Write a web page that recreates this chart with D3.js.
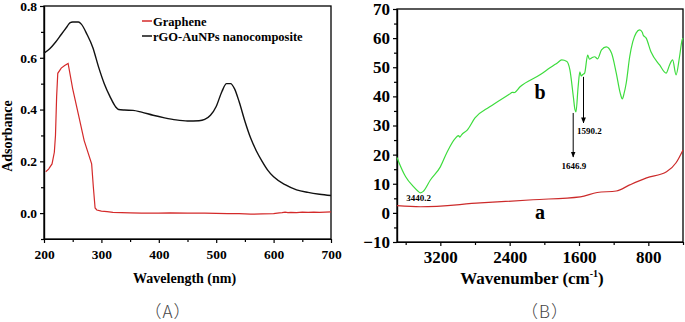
<!DOCTYPE html>
<html>
<head>
<meta charset="utf-8">
<script src="https://cdn.jsdelivr.net/npm/d3@7"></script>
<style>
  body { margin: 0; background: #fff; }
  svg { display: block; }
  .axis text { font-family: "Liberation Serif", "Times New Roman", serif; font-weight: bold; fill: #000; }
  .axis path, .axis line { stroke: #000; stroke-width: 1.2; }
  .lbl { font-family: "Liberation Serif", "Times New Roman", serif; font-weight: bold; fill: #000; }
  .panel { font-family: "Noto Sans CJK SC", sans-serif; font-weight: 300; font-size: 17px; fill: #444; letter-spacing: 1px; }
</style>
</head>
<body>
<div id="chart"></div>
<script>
// ---- panel A: UV-vis ----
let wavelengthTicks = [200, 300, 400, 500, 600, 700];
let absTicks = [0.0, 0.2, 0.4, 0.6, 0.8];

let rgoNm  = [200, 210, 220, 230, 240, 245, 250, 260, 265, 275, 285, 295, 305, 315, 325, 330, 340, 355, 370, 390, 410, 430, 450, 470, 480, 490, 500, 510, 518, 525, 532, 540, 550, 560, 570, 580, 590, 600, 620, 640, 660, 680, 700];
let rgoAbs = [0.618, 0.635, 0.66, 0.69, 0.72, 0.735, 0.738, 0.738, 0.73, 0.69, 0.64, 0.565, 0.50, 0.45, 0.41, 0.40, 0.398, 0.397, 0.39, 0.378, 0.368, 0.36, 0.356, 0.357, 0.362, 0.378, 0.412, 0.47, 0.50, 0.50, 0.48, 0.43, 0.355, 0.29, 0.24, 0.20, 0.165, 0.14, 0.11, 0.09, 0.08, 0.073, 0.068];

let grNm  = [203, 208, 214, 218, 220, 222, 224, 230, 236, 242, 250, 260, 270, 283, 286, 289, 292, 300, 310, 320, 335, 350, 370, 400, 420, 450, 480, 500, 520, 540, 560, 580, 600, 610, 615, 620, 625, 630, 640, 650, 660, 670, 680, 690, 700];
let grAbs = [0.16, 0.17, 0.19, 0.235, 0.30, 0.45, 0.54, 0.56, 0.57, 0.578, 0.48, 0.38, 0.28, 0.19, 0.10, 0.02, 0.012, 0.008, 0.006, 0.003, 0.002, 0.001, 0.0, 0.0, 0.001, 0.0, 0.0, -0.001, -0.002, -0.002, -0.004, -0.003, -0.002, 0.001, 0.002, 0.004, 0.002, 0.003, 0.002, 0.004, 0.003, 0.004, 0.003, 0.004, 0.005];

let legendA = ["Graphene", "rGO-AuNPs nanocomposite"];

// ---- panel B: FTIR ----
let waveTicks = [3200, 2400, 1600, 800];
let transTicks = [-10, 0, 10, 20, 30, 40, 50, 60, 70];

let bWn = [3700, 3680, 3600, 3510, 3460, 3430, 3400, 3315, 3200, 3120, 3030, 2990, 2975, 2955, 2890, 2800, 2630, 2400, 2370, 2350, 2280, 2050, 1935, 1850, 1800, 1740, 1705, 1665, 1647, 1635, 1610, 1590, 1575, 1560, 1535, 1500, 1480, 1455, 1420, 1385, 1340, 1285, 1225, 1170, 1125, 1100, 1080, 1055, 1015, 980, 940, 900, 870, 860, 825, 770, 670, 595, 555, 520, 480, 440, 410, 400];
let bT  = [19.0, 17.5, 12.4, 9.0, 7.5, 6.9, 7.3, 11.3, 15.8, 21.0, 25.5, 26.5, 26.0, 26.8, 28.4, 32.6, 36.4, 40.8, 41.4, 41.3, 43.3, 47.4, 49.8, 51.5, 52.5, 52.0, 49.1, 39.8, 35.5, 34.7, 43.3, 48.4, 47.0, 47.4, 48.0, 54.2, 52.8, 53.2, 53.6, 52.9, 56.0, 57.0, 54.9, 48.0, 41.2, 39.1, 41.0, 44.6, 53.6, 58.7, 61.8, 62.8, 62.0, 61.1, 60.0, 55.3, 50.8, 48.0, 50.8, 52.5, 47.4, 53.6, 59.4, 60.0];

let aWn = [3700, 3430, 2740, 2130, 1585, 1390, 1170, 1015, 820, 590, 480, 400];
let aT  = [2.5, 2.1, 3.4, 4.5, 5.5, 7.0, 7.5, 9.6, 12.0, 14.1, 17.2, 21.6];

// peak labels: [label, wavenumber, value at text baseline]
let peakLabels = [["3440.2", 3450, 4.0], ["1590.2", 1480, 27.0], ["1646.9", 1660, 15.0]];
// arrows: [wavenumber, from value, to value]
let peakArrows = [[1667, 34.3, 19.2], [1548, 46.7, 30.9]];
// curve letters: [label, wavenumber, value at baseline]
let curveLabels = [["b", 2050, 39], ["a", 2050, -2]];

let W = 685, H = 322;
let svg = d3.select("#chart").append("svg").attr("width", W).attr("height", H);

svg.append("defs").append("marker")
    .attr("id", "arr").attr("viewBox", "0 0 10 10").attr("refX", 9).attr("refY", 5)
    .attr("markerWidth", 6).attr("markerHeight", 6).attr("orient", "auto")
    .append("path").attr("d", "M0,1 L10,5 L0,9 Z").attr("fill", "#000");

function frame(g, x, y) {
    g.append("rect")
        .attr("x", x.range()[0]).attr("y", y.range()[1])
        .attr("width", x.range()[1] - x.range()[0])
        .attr("height", y.range()[0] - y.range()[1])
        .attr("fill", "none").attr("stroke", "#000").attr("stroke-width", 1.3);
}

// ===== panel A =====
let gA = svg.append("g");
let xA = d3.scaleLinear().domain([200, 700]).range([44, 331]);
let yA = d3.scaleLinear().domain([-0.1, 0.8]).range([239, 6]);

gA.append("g").attr("class", "axis").attr("transform", "translate(0,239)")
    .call(d3.axisBottom(xA).tickValues(d3.range(250, 700, 100)).tickFormat("").tickSize(3).tickSizeOuter(0));
gA.append("g").attr("class", "axis").attr("transform", "translate(0,239)")
    .call(d3.axisBottom(xA).tickValues(wavelengthTicks).tickFormat(d3.format("d")).tickSize(4).tickPadding(6).tickSizeOuter(0))
    .selectAll("text").style("font-size", "13.5px");
gA.append("g").attr("class", "axis").attr("transform", "translate(44,0)")
    .call(d3.axisLeft(yA).tickValues([-0.1, 0.1, 0.3, 0.5, 0.7]).tickFormat("").tickSize(3).tickSizeOuter(0));
gA.append("g").attr("class", "axis").attr("transform", "translate(44,0)")
    .call(d3.axisLeft(yA).tickValues(absTicks).tickFormat(d3.format(".1f")).tickSize(4).tickPadding(3).tickSizeOuter(0))
    .selectAll("text").style("font-size", "13.5px");
frame(gA, xA, yA);

let lineA = d3.line().x(d => xA(d[0])).y(d => yA(d[1])).curve(d3.curveMonotoneX);
gA.append("path").datum(rgoNm.map((v, i) => [v, rgoAbs[i]]))
    .attr("d", lineA).attr("fill", "none").attr("stroke", "#111").attr("stroke-width", 1.4);
gA.append("path").datum(grNm.map((v, i) => [v, grAbs[i]]))
    .attr("d", d3.line().x(d => xA(d[0])).y(d => yA(d[1])))
    .attr("fill", "none").attr("stroke", "#d42a2a").attr("stroke-width", 1.2);

// legend
let legColors = ["#d42a2a", "#111"];
legendA.forEach((t, i) => {
    let ly = 21 + i * 15;
    gA.append("line").attr("x1", 142).attr("x2", 152).attr("y1", ly).attr("y2", ly)
        .attr("stroke", legColors[i]).attr("stroke-width", 1.5);
    gA.append("text").attr("class", "lbl").attr("x", 153).attr("y", ly + 5)
        .style("font-size", "12.5px").text(t);
});

gA.append("text").attr("class", "lbl").attr("x", xA(445)).attr("y", 283)
    .attr("text-anchor", "middle").style("font-size", "14px").text("Wavelength (nm)");
gA.append("text").attr("class", "lbl").attr("transform", "translate(12,136) rotate(-90)")
    .attr("text-anchor", "middle").style("font-size", "14px").text("Adsorbance");
gA.append("text").attr("class", "panel").attr("x", 168).attr("y", 318)
    .attr("text-anchor", "middle").text("（A）");

// ===== panel B =====
let gB = svg.append("g");
let xB = d3.scaleLinear().domain([3700, 400]).range([397, 683]);
let yB = d3.scaleLinear().domain([-10, 70]).range([242, 9]);

gB.append("g").attr("class", "axis").attr("transform", "translate(0,242)")
    .call(d3.axisBottom(xB).tickValues([3600, 2800, 2000, 1200, 400]).tickFormat("").tickSize(3).tickSizeOuter(0));
gB.append("g").attr("class", "axis").attr("transform", "translate(0,242)")
    .call(d3.axisBottom(xB).tickValues(waveTicks).tickFormat(d3.format("d")).tickSize(4).tickPadding(5).tickSizeOuter(0))
    .selectAll("text").style("font-size", "17px");
gB.append("g").attr("class", "axis").attr("transform", "translate(397,0)")
    .call(d3.axisLeft(yB).tickValues(d3.range(-5, 70, 10)).tickFormat("").tickSize(3).tickSizeOuter(0));
gB.append("g").attr("class", "axis").attr("transform", "translate(397,0)")
    .call(d3.axisLeft(yB).tickValues(transTicks).tickFormat(d3.format("d")).tickSize(4).tickPadding(3).tickSizeOuter(0))
    .selectAll("text").style("font-size", "17px");
frame(gB, xB, yB);

gB.append("path").datum(aWn.map((v, i) => [v, aT[i]]))
    .attr("d", d3.line().x(d => xB(d[0])).y(d => yB(d[1])).curve(d3.curveMonotoneX))
    .attr("fill", "none").attr("stroke", "#cc2a2a").attr("stroke-width", 1.2);
gB.append("path").datum(bWn.map((v, i) => [v, bT[i]]))
    .attr("d", d3.line().x(d => xB(d[0])).y(d => yB(d[1])).curve(d3.curveMonotoneX))
    .attr("fill", "none").attr("stroke", "#3ddc3d").attr("stroke-width", 1.2);

peakArrows.forEach(a => {
    gB.append("line").attr("x1", xB(a[0])).attr("x2", xB(a[0]))
        .attr("y1", yB(a[1])).attr("y2", yB(a[2]))
        .attr("stroke", "#000").attr("stroke-width", 1).attr("marker-end", "url(#arr)");
});
peakLabels.forEach(p => {
    gB.append("text").attr("class", "lbl").attr("x", xB(p[1])).attr("y", yB(p[2]))
        .attr("text-anchor", "middle").style("font-size", "9px").text(p[0]);
});
curveLabels.forEach(c => {
    gB.append("text").attr("class", "lbl").attr("x", xB(c[1])).attr("y", yB(c[2]))
        .attr("text-anchor", "middle").style("font-size", "20px").text(c[0]);
});

let tB = gB.append("text").attr("class", "lbl").attr("x", 532).attr("y", 284)
    .attr("text-anchor", "middle").style("font-size", "17px");
tB.append("tspan").text("Wavenumber (cm");
tB.append("tspan").attr("dy", -7).style("font-size", "10px").text("-1");
tB.append("tspan").attr("dy", 7).text(")");
gB.append("text").attr("class", "panel").attr("x", 545).attr("y", 318)
    .attr("text-anchor", "middle").text("（B）");
</script>
</body>
</html>
